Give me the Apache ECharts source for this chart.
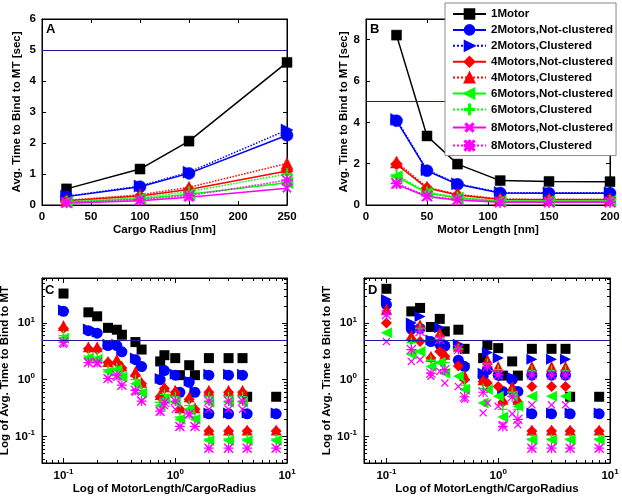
<!DOCTYPE html>
<html><head><meta charset="utf-8">
<script src="https://cdn.jsdelivr.net/npm/echarts@6/dist/echarts.min.js"></script>
<style>html,body{margin:0;padding:0;background:#fff}#c{width:622px;height:502px}</style>
</head><body><div id="c"></div>
<script>
// ---------------- DATA ----------------
const seriesNames = ['1Motor','2Motors,Not-clustered','2Motors,Clustered','4Motors,Not-clustered','4Motors,Clustered','6Motors,Not-clustered','6Motors,Clustered','8Motors,Not-clustered','8Motors,Clustered'];

const xA = [25, 100, 150, 250]; // Cargo Radius [nm]
const valuesA = [
  [0.52, 1.16, 2.06, 4.6],
  [0.27, 0.59, 1.02, 2.25],
  [0.28, 0.61, 1.06, 2.42],
  [0.14, 0.29, 0.50, 1.10],
  [0.15, 0.33, 0.57, 1.34],
  [0.09, 0.20, 0.35, 0.72],
  [0.11, 0.24, 0.43, 1.00],
  [0.06, 0.14, 0.25, 0.54],
  [0.08, 0.17, 0.30, 0.80]
];

const xB = [25, 50, 75, 110, 150, 200]; // Motor Length [nm]
const valuesB = [
  [8.22, 3.34, 1.98, 1.18, 1.14, 1.13],
  [4.08, 1.66, 1.00, 0.58, 0.57, 0.57],
  [4.14, 1.70, 1.03, 0.60, 0.59, 0.59],
  [1.98, 0.82, 0.48, 0.27, 0.26, 0.26],
  [2.08, 0.86, 0.52, 0.29, 0.28, 0.28],
  [1.38, 0.58, 0.34, 0.18, 0.18, 0.18],
  [1.45, 0.62, 0.37, 0.20, 0.19, 0.19],
  [1.00, 0.40, 0.24, 0.13, 0.13, 0.13],
  [1.05, 0.44, 0.26, 0.15, 0.14, 0.14]
];

// MotorLength / CargoRadius
const xCD = [0.1, 0.167, 0.2, 0.25, 0.3, 0.333, 0.44, 0.5, 0.733, 0.8, 1.0, 1.1, 1.333, 1.5, 2, 3, 4, 2, 3, 4.4, 8];
const valuesC = [
  [33, 15.4, 13.1, 8.2, 7.6, 6.2, 4.6, 3.4, 2.1, 2.7, 2.4, 1.2, 1.8, 1.2, 2.4, 2.4, 2.4, null, null, 0.5, 0.5],
  [16, 7.3, 6.6, 4.0, 4.0, 3.1, 2.25, 1.7, 1.0, 1.45, 1.2, 0.6, 0.9, 0.6, 1.2, 1.2, 1.2, 0.25, 0.25, 0.25, 0.25],
  [17, 7.8, 6.9, 4.2, 4.2, 3.3, 2.4, 1.8, 1.05, 1.5, 1.25, 0.62, 0.95, 0.62, 1.25, 1.25, 1.25, 0.26, 0.26, 0.26, 0.26],
  [8, 3.5, 3.4, 2.0, 2.0, 1.6, 1.2, 0.85, 0.5, 0.7, 0.6, 0.3, 0.45, 0.3, 0.6, 0.6, 0.6, 0.125, 0.125, 0.125, 0.125],
  [9, 3.8, 3.8, 2.1, 2.3, 1.75, 1.4, 0.9, 0.55, 0.75, 0.65, 0.32, 0.5, 0.32, 0.65, 0.65, 0.65, 0.13, 0.13, 0.13, 0.13],
  [5.4, 2.4, 2.3, 1.4, 1.5, 1.1, 0.85, 0.58, 0.35, 0.45, 0.4, 0.2, 0.3, 0.2, 0.4, 0.4, 0.4, 0.085, 0.085, 0.085, 0.085],
  [6, 2.6, 2.5, 1.5, 1.6, 1.3, 1.0, 0.65, 0.4, 0.55, 0.5, 0.22, 0.35, 0.22, 0.5, 0.5, 0.5, 0.09, 0.09, 0.09, 0.09],
  [4.2, 2.0, 1.9, 1.05, 1.1, 0.8, 0.6, 0.42, 0.27, 0.35, 0.3, 0.15, 0.24, 0.15, 0.3, 0.3, 0.3, 0.062, 0.062, 0.062, 0.062],
  [4.6, 2.0, 2.0, 1.05, 1.2, 0.8, 0.65, 0.42, 0.28, 0.4, 0.42, 0.15, 0.25, 0.15, 0.42, 0.42, 0.42, 0.062, 0.062, 0.062, 0.062]
];
const valuesD = [
  [40, 16, 18.4, 8.5, 11.8, 7.1, 7.6, 3.5, 2.4, 4.1, 3.6, 1.18, 2.1, 1.18, 3.5, 3.5, 3.5, null, null, 0.5, 0.5],
  [21, 7.8, 8.0, 4.7, 4.2, 3.9, 2.2, 1.7, 1.15, 1.5, 1.2, 0.62, 1.0, 0.62, 1.2, 1.2, 1.2, 0.25, 0.25, 0.25, 0.25],
  [26, 10, 13, 5.0, 8.2, 4.5, 4.2, 1.9, 1.3, 3.0, 2.4, 0.65, 1.1, 0.65, 2.3, 2.3, 2.3, 0.26, 0.26, 0.26, 0.26],
  [10, 5.1, 4.7, 2.4, 3.15, 2.6, 1.75, 1.0, 0.93, 0.87, 0.76, 0.4, 0.6, 0.4, 0.76, 0.76, 0.76, 0.125, 0.125, 0.125, 0.125],
  [17.7, 6, 9.3, 2.6, 6.7, 2.8, 3.9, 1.2, 1.0, 2.25, 1.7, 0.45, 0.76, 0.45, 1.7, 1.7, 1.7, 0.13, 0.13, 0.13, 0.13],
  [6.7, 2.8, 3.15, 1.7, 2.0, 1.3, 1.15, 0.67, 0.39, 0.67, 0.51, 0.22, 0.51, 0.34, 0.51, 0.51, 0.51, 0.087, 0.087, 0.087, 0.087],
  [14, 4.5, 8, 2.2, 5.5, 2.0, 3.5, 0.8, 0.7, 1.9, 1.5, 0.3, 0.6, 0.3, 1.45, 1.45, 1.45, 0.09, 0.09, 0.09, 0.09],
  [4.7, 2.1, 2.25, 1.15, 1.4, 0.87, 0.76, 0.45, 0.26, 0.39, 0.34, 0.16, 0.25, 0.16, 0.36, 0.36, 0.36, 0.062, 0.062, 0.062, 0.062],
  [14, 3.4, 7.1, 1.3, 5.1, 1.5, 3.4, 0.5, 0.6, 1.7, 1.22, 0.15, 0.5, 0.2, 1.22, 1.22, 1.22, 0.062, 0.062, 0.062, 0.062]
];
const thresholdValue = 5;
const logMajor = [0.1, 1, 10];
const logMinorX = [0.07, 0.08, 0.09, 0.2, 0.3, 0.4, 0.5, 0.6, 0.7, 0.8, 0.9, 2, 3, 4, 5, 6, 7, 8, 9];
const logMinorY = [0.04, 0.05, 0.06, 0.07, 0.08, 0.09, 0.2, 0.3, 0.4, 0.5, 0.6, 0.7, 0.8, 0.9, 2, 3, 4, 5, 6, 7, 8, 9, 20, 30, 40, 50, 60];

// ---------------- STYLES ----------------
const F = '"Liberation Sans", Arial, Helvetica, sans-serif';
const colors = ['#000000', '#0000ff', '#0000ff', '#ff0000', '#ff0000', '#00ff00', '#00ff00', '#ff00ff', '#ff00ff'];
const lineTypes = ['solid', 'solid', 'dotted', 'solid', 'dotted', 'solid', 'dotted', 'solid', 'dotted'];
const PLUS = 'path://M8.7,0H11.3V8.7H20V11.3H11.3V20H8.7V11.3H0V8.7H8.7Z';
const STAR = 'path://M0,8.8L20,8.8L20,11.2L0,11.2Z M8.8,0L11.2,0L11.2,20L8.8,20Z M1.7,0L20,18.3L18.3,20L0,1.7Z M18.3,0L20,1.7L1.7,20L0,18.3Z';
const symbols = ['rect', 'circle', 'triangle', 'diamond', 'triangle', 'triangle', PLUS, PLUS, STAR];
const rotations = [0, 0, -90, 0, 0, 90, 0, 45, 0];
const sizes = [10, 12, 12, 12, 12, 12, 11, 11, 11];
const sizesScatter = [10, 11, 11, 11, 11, 11, 10, 10, 10];

const labelStyle = {show: true, color: '#000', fontWeight: 'bold', fontSize: 11.5, fontFamily: F, margin: 6};
const nameStyle = {color: '#000', fontWeight: 'bold', fontSize: 11.5, fontFamily: F};
const richLog = {
  b: {fontSize: 11.5, fontWeight: 'bold', color: '#000', fontFamily: F},
  s: {fontSize: 8, fontWeight: 'bold', color: '#000', fontFamily: F, padding: [0, 0, 7, 0]}
};
function logFmt(v) {
  const l = Math.log10(v), e = Math.round(l);
  if (Math.abs(l - e) > 1e-6) return '';
  return '{b|10}{s|' + e + '}';
}

const grids = [
  {left: 42, top: 19, width: 245, height: 186},
  {left: 366, top: 19, width: 244, height: 186},
  {left: 42, top: 278, width: 245, height: 185},
  {left: 364, top: 278, width: 246, height: 185}
];
grids.forEach(g => { g.show = true; g.borderColor = '#000'; g.borderWidth = 1; g.backgroundColor = '#fff'; g.containLabel = false; g.outerBoundsMode = 'none'; });

const xAxes = [], yAxes = [];
function base(gi, pos) {
  return {
    gridIndex: gi, position: pos,
    axisLine: {show: true, onZero: false, lineStyle: {color: '#000', width: 1}},
    axisTick: {show: true, inside: true, length: 4, lineStyle: {color: '#000', width: 1}},
    axisLabel: {show: false},
    splitLine: {show: false}, minorTick: {show: false}
  };
}
function linPanel(gi, xr, yr, xName, yName, xGap, yGap, yLabelFilter) {
  const mx = xAxes.push(Object.assign(base(gi, 'bottom'), {type: 'value', min: xr[0], max: xr[1], interval: xr[2],
    axisLabel: labelStyle, name: xName, nameLocation: 'middle', nameGap: xGap, nameTextStyle: nameStyle})) - 1;
  xAxes.push(Object.assign(base(gi, 'top'), {type: 'value', min: xr[0], max: xr[1], interval: xr[2]}));
  const ylab = Object.assign({}, labelStyle, {formatter: v => (yLabelFilter(v) ? String(v) : '')});
  const my = yAxes.push(Object.assign(base(gi, 'left'), {type: 'value', min: yr[0], max: yr[1], interval: yr[2],
    axisLabel: ylab, name: yName, nameLocation: 'middle', nameGap: yGap, nameTextStyle: nameStyle})) - 1;
  yAxes.push(Object.assign(base(gi, 'right'), {type: 'value', min: yr[0], max: yr[1], interval: yr[2]}));
  return [mx, my];
}
function logAxis(gi, pos, r, ticks, len, withLine) {
  const a = base(gi, pos);
  a.type = 'log'; a.logBase = 10; a.min = r[0]; a.max = r[1];
  a.axisTick = {show: true, inside: true, length: len, customValues: ticks, lineStyle: {color: '#000', width: 1}};
  if (!withLine) a.axisLine = {show: false};
  return a;
}
function logPanel(gi, xr, yr, xName, yName, xGap, yGap) {
  const bx = logAxis(gi, 'bottom', xr, logMajor, 5, true);
  bx.axisLabel = Object.assign({}, labelStyle, {customValues: logMajor, formatter: logFmt, rich: richLog, margin: 5});
  bx.name = xName; bx.nameLocation = 'middle'; bx.nameGap = xGap; bx.nameTextStyle = nameStyle;
  const mx = xAxes.push(bx) - 1;
  xAxes.push(logAxis(gi, 'top', xr, logMajor, 5, true));
  xAxes.push(logAxis(gi, 'bottom', xr, logMinorX, 3, false));
  xAxes.push(logAxis(gi, 'top', xr, logMinorX, 3, false));
  const ly = logAxis(gi, 'left', yr, logMajor, 5, true);
  ly.axisLabel = Object.assign({}, labelStyle, {customValues: logMajor, formatter: logFmt, rich: richLog, margin: 7});
  ly.name = yName; ly.nameLocation = 'middle'; ly.nameGap = yGap; ly.nameTextStyle = nameStyle;
  const my = yAxes.push(ly) - 1;
  yAxes.push(logAxis(gi, 'right', yr, logMajor, 5, true));
  yAxes.push(logAxis(gi, 'left', yr, logMinorY, 3, false));
  yAxes.push(logAxis(gi, 'right', yr, logMinorY, 3, false));
  return [mx, my];
}

const axA = linPanel(0, [0, 250, 50], [0, 6, 1], 'Cargo Radius [nm]', 'Avg. Time to Bind to MT [sec]', 18, 19, v => true);
const axB = linPanel(1, [0, 200, 50], [0, 9, 2], 'Motor Length [nm]', 'Avg. Time to Bind to MT [sec]', 18, 15, v => v % 2 === 0);
const axC = logPanel(2, [0.0642, 10], [0.034, 62], 'Log of MotorLength/CargoRadius', 'Log of Avg. Time to Bind to MT', 19, 28);
const axD = logPanel(3, [0.063, 10], [0.034, 62], 'Log of MotorLength/CargoRadius', 'Log of Avg. Time to Bind to MT', 19, 26);

const markLine5 = {silent: true, symbol: ['none', 'none'], label: {show: false},
  lineStyle: {color: '#1a1aa6', width: 1.2, type: 'solid'}, emphasis: {disabled: true}, data: [{yAxis: thresholdValue}]};

const series = [];
function addLines(ax, xs, vals) {
  vals.forEach((row, i) => {
    series.push({
      type: 'line', name: seriesNames[i], xAxisIndex: ax[0], yAxisIndex: ax[1],
      data: xs.map((x, j) => [x, row[j]]),
      symbol: symbols[i], symbolSize: sizes[i], symbolRotate: rotations[i], showSymbol: true,
      lineStyle: {color: colors[i], width: 1.5, type: lineTypes[i]},
      itemStyle: {color: colors[i], borderColor: colors[i], borderWidth: 0.5},
      emphasis: {disabled: true},
      markLine: i === 0 ? markLine5 : undefined
    });
  });
}
function addScatter(ax, xs, vals) {
  vals.forEach((row, i) => {
    const pts = [];
    xs.forEach((x, j) => { if (row[j] != null) pts.push([x, row[j]]); });
    series.push({
      type: 'scatter', name: seriesNames[i], xAxisIndex: ax[0], yAxisIndex: ax[1],
      data: pts, symbol: symbols[i], symbolSize: sizesScatter[i], symbolRotate: rotations[i],
      itemStyle: {color: colors[i], opacity: 1},
      emphasis: {disabled: true},
      markLine: i === 0 ? markLine5 : undefined
    });
  });
}
addLines(axA, xA, valuesA);
addLines(axB, xB, valuesB);
addScatter(axC, xCD, valuesC);
addScatter(axD, xCD, valuesD);

const letter = (t, x, y) => ({type: 'text', left: x, top: y, z: 100,
  style: {text: t, fill: '#000', font: 'bold 13px ' + F}});

const chart = echarts.init(document.getElementById('c'), null, {renderer: 'canvas'});
chart.setOption({
  animation: false,
  backgroundColor: '#fff',
  grid: grids,
  xAxis: xAxes,
  yAxis: yAxes,
  legend: {
    show: true, left: 445, top: 3, orient: 'vertical', data: seriesNames,
    backgroundColor: '#fff', borderColor: '#888', borderWidth: 1, borderRadius: 0,
    padding: [5, 3, 4, 7], itemWidth: 33, itemHeight: 12, itemGap: 3.9,
    selectedMode: false, z: 50,
    textStyle: {color: '#000', fontWeight: 'bold', fontSize: 11.5, fontFamily: F}
  },
  graphic: [letter('A', 46, 23), letter('B', 370, 23), letter('C', 45, 284), letter('D', 368, 284)],
  series: series
});
</script></body></html>
